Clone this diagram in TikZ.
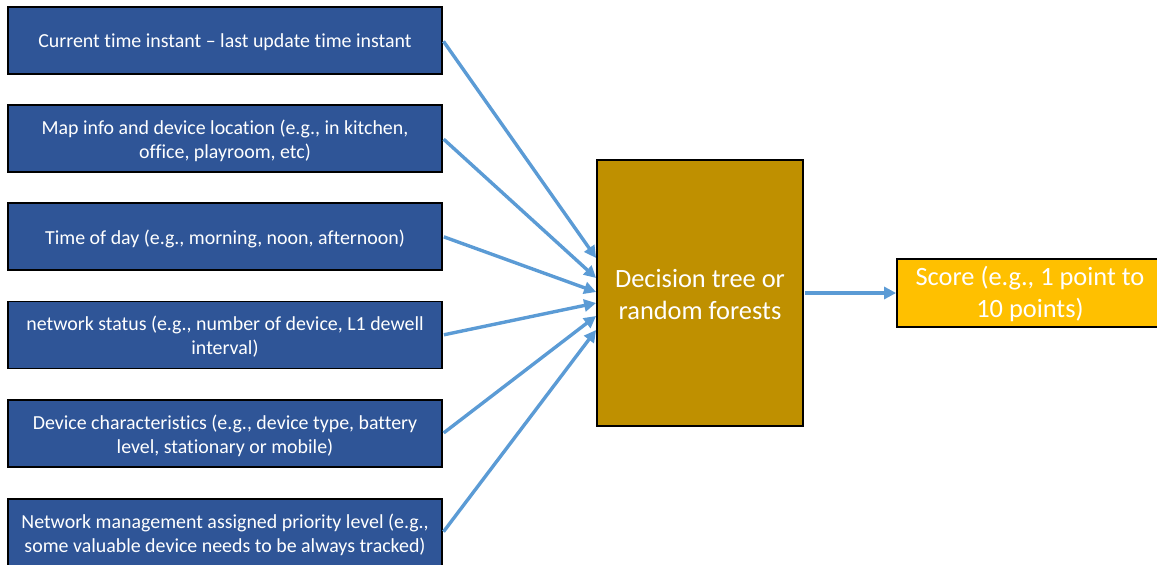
\documentclass[tikz,border=0pt]{standalone}
\usepackage{fontspec}
\setmainfont{Carlito}[Ligatures={NoCommon}]
\usetikzlibrary{arrows.meta}
\definecolor{inblue}{HTML}{2F5597}
\definecolor{dtgold}{HTML}{BF9000}
\definecolor{scoreamber}{HTML}{FFC000}
\definecolor{linkblue}{HTML}{5B9BD5}
\tikzset{
  feature/.style={draw=black, line width=1.8pt, fill=inblue, text=white,
    minimum width=434pt, minimum height=67pt, align=center,
    font=\fontsize{19.9}{24}\selectfont, inner sep=0pt},
  model/.style={draw=black, line width=1.8pt, fill=dtgold, text=white,
    minimum width=206pt, minimum height=266pt, align=center,
    font=\fontsize{26.4}{32}\selectfont, inner sep=0pt},
  result/.style={draw=black, line width=1.8pt, fill=scoreamber, text=white,
    minimum width=266pt, minimum height=68pt, align=center,
    font=\fontsize{26.4}{32}\selectfont, inner sep=0pt},
  link/.style={draw=linkblue, line width=3.4pt,
    -{Triangle[length=12pt,width=12pt]}, shorten <=1pt},
  lbl/.style={text=white, align=center, inner sep=0pt},
}
\begin{document}
\begin{tikzpicture}[x=1pt,y=-1pt]
\useasboundingbox (0,0) rectangle (1157,565);
% input features
\node[feature] (f1) at (225,40.5) {};
\node[feature] (f2) at (225,138.5) {};
\node[feature] (f3) at (225,236.5) {};
\node[feature] (f4) at (225,335) {};
\node[feature] (f5) at (225,433.5) {};
\node[feature] (f6) at (225,532.5) {};
\node[lbl, font=\fontsize{19.9}{24}\selectfont] (t1) at ([yshift=-2pt]f1.center) {Current time instant – last update time instant};
\node[lbl, font=\fontsize{19.9}{24}\selectfont] (t2) at ([yshift=-2pt]f2.center) {Map info and device location (e.g., in kitchen,\\ office, playroom, etc)};
\node[lbl, font=\fontsize{19.9}{24}\selectfont] (t3) at ([yshift=-2pt]f3.center) {Time of day (e.g., morning, noon, afternoon)};
\node[lbl, font=\fontsize{19.9}{24}\selectfont] (t4) at ([yshift=-2pt]f4.center) {network status (e.g., number of device, L1 dewell\\ interval)};
\node[lbl, font=\fontsize{19.9}{24}\selectfont] (t5) at ([yshift=-2pt]f5.center) {Device characteristics (e.g., device type, battery\\ level, stationary or mobile)};
\node[lbl, font=\fontsize{19.9}{24}\selectfont] (t6) at ([yshift=-2pt]f6.center) {Network management assigned priority level (e.g.,\\ some valuable device needs to be always tracked)};
% model and output
\node[model] (dt) at (700,293) {};
\node[lbl, font=\fontsize{26.4}{32}\selectfont] (dtl) at ([yshift=-2pt]dt.center) {Decision tree or\\ random forests};
\node[result] (sc) at (1030,293) {};
\node[lbl, font=\fontsize{26.4}{32}\selectfont] (scl) at ([yshift=-1pt]sc.center) {Score (e.g., 1 point to\\ 10 points)};
% connectors
\draw[link] (f1.east) -- ([yshift=35pt]dt.west);
\draw[link] (f2.east) -- ([yshift=15pt]dt.west);
\draw[link] (f3.east) -- ([yshift=1pt]dt.west);
\draw[link] (f4.east) -- ([yshift=-10pt]dt.west);
\draw[link] (f5.east) -- ([yshift=-23pt]dt.west);
\draw[link] (f6.east) -- ([yshift=-37pt]dt.west);
\draw[link] (dt.east) -- (sc.west);
\end{tikzpicture}
\end{document}
